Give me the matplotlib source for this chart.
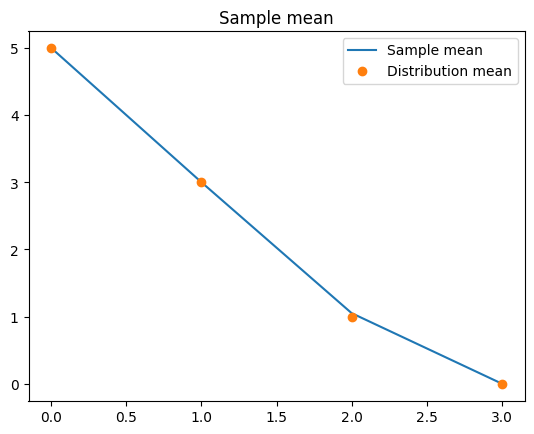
import matplotlib
matplotlib.use("Agg")
import matplotlib.pyplot as plt

x = [0, 1, 2, 3]
sample_mean = [5.0, 3.0, 1.05, 0.0]
dist_mean = [5, 3, 1, 0]

fig = plt.figure(figsize=(5.34, 4.35), dpi=100)
ax = fig.add_axes([28.5/534, 1-401.5/435, (524.5-28.5)/534, (401.5-32.0)/435])
ax.plot(x, sample_mean, label="Sample mean")
ax.plot(x, dist_mean, "o", label="Distribution mean")
ax.set_title("Sample mean")
ax.legend()
fig.savefig("out.png", dpi=100)
